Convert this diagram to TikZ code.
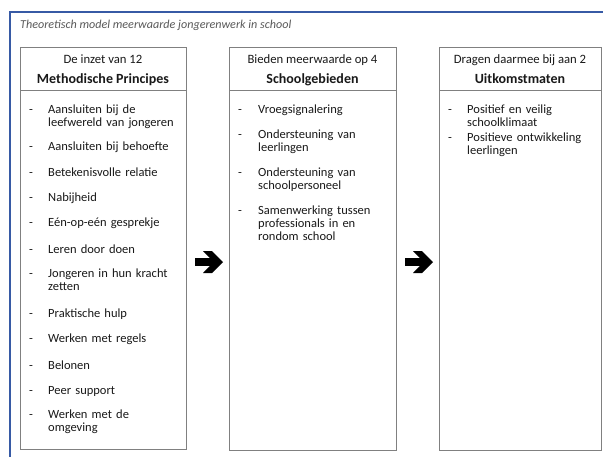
\documentclass[tikz,border=0pt]{standalone}
\usepackage{fontspec}
\setmainfont{Carlito}
\definecolor{framblue}{RGB}{55,90,165}
\definecolor{boxgrey}{RGB}{128,128,128}
\definecolor{titlegrey}{RGB}{89,89,89}
\definecolor{txt}{RGB}{25,25,25}
\begin{document}
\begin{tikzpicture}[x=1pt,y=-1pt,
  box/.style={draw=boxgrey,line width=0.9pt,fill=white,anchor=north west,inner sep=0pt},
  dashmark/.style={anchor=base west,inner sep=0pt,font=\fontsize{12.5}{13}\selectfont,text=txt},
  item/.style={anchor=base west,inner sep=0pt,align=left,text width=150pt,font=\fontsize{12.5}{13}\selectfont,text=txt},
  headA/.style={anchor=base,inner sep=0pt,font=\fontsize{12.7}{13}\selectfont,text=txt},
  headB/.style={anchor=base,inner sep=0pt,font=\bfseries\fontsize{14}{15}\selectfont,text=txt},
  bigarrow/.style={fill=black}]
\useasboundingbox (0,0) rectangle (603,456);
\fill[white] (0,0) rectangle (603,456);
% frame
\draw[framblue,line width=2pt] (10,460) -- (10,12) -- (606,12);
\node[anchor=base west,inner sep=0pt,font=\itshape\fontsize{12.1}{13}\selectfont,text=titlegrey] (title) at (20,28) {Theoretisch model meerwaarde jongerenwerk in school};
% boxes
\node[box,minimum width=166pt,minimum height=402pt] (b1) at (20,47) {};
\node[box,minimum width=167pt,minimum height=403pt] (b2) at (229,47) {};
\node[box,minimum width=162pt,minimum height=403pt] (b3) at (439,47) {};
\draw[boxgrey,line width=0.9pt] (b1.north west |- 0,90) -- (b1.north east |- 0,90);
\draw[boxgrey,line width=0.9pt] (b2.north west |- 0,90) -- (b2.north east |- 0,90);
\draw[boxgrey,line width=0.9pt] (b3.north west |- 0,90) -- (b3.north east |- 0,90);
% headers
\node[headA] (h1a) at (103,63) {De inzet van 12};
\node[headB] (h1b) at (103,83.5) {Methodische Principes};
\node[headA] (h2a) at (312.5,63) {Bieden meerwaarde op 4};
\node[headB] (h2b) at (312.5,83.5) {Schoolgebieden};
\node[headA] (h3a) at (520,63) {Dragen daarmee bij aan 2};
\node[headB] (h3b) at (520,83.5) {Uitkomstmaten};
% column 1
\foreach \y/\t [count=\i] in {
  113.5/{Aansluiten bij de\\leefwereld van jongeren},
  150.5/{Aansluiten bij behoefte},
  176.5/{Betekenisvolle relatie},
  201.5/{Nabijheid},
  226.5/{Eén-op-eén gesprekje},
  253.5/{Leren door doen},
  277/{Jongeren in hun kracht\\zetten},
  317.5/{Praktische hulp},
  342.5/{Werken met regels},
  369/{Belonen},
  394/{Peer support},
  418.5/{Werken met de\\omgeving}}{
  \node[dashmark] (d1-\i) at (29,\y) {-};
  \node[item] (i1-\i) at (48,\y) {\t};
}
% column 2
\foreach \y/\t [count=\i] in {
  113.5/{Vroegsignalering},
  138.5/{Ondersteuning van\\leerlingen},
  176.5/{Ondersteuning van\\schoolpersoneel},
  214.5/{Samenwerking tussen\\professionals in en\\rondom school}}{
  \node[dashmark] (d2-\i) at (238,\y) {-};
  \node[item] (i2-\i) at (258,\y) {\t};
}
% column 3
\foreach \y/\t [count=\i] in {
  113.5/{Positief en veilig\\schoolklimaat},
  141.5/{Positieve ontwikkeling\\leerlingen}}{
  \node[dashmark] (d3-\i) at (448,\y) {-};
  \node[item] (i3-\i) at (467,\y) {\t};
}
% arrows
\coordinate (a1) at (195,262);
\coordinate (a2) at (405,262);
\foreach \a in {a1,a2}{
  \fill[bigarrow,shift={(\a)}] (0,-3.8) -- (15,-3.8) -- (8,-11) -- (17,-11) -- (28,0) -- (17,11) -- (8,11) -- (15,3.8) -- (0,3.8) -- cycle;
}
\end{tikzpicture}
\end{document}
